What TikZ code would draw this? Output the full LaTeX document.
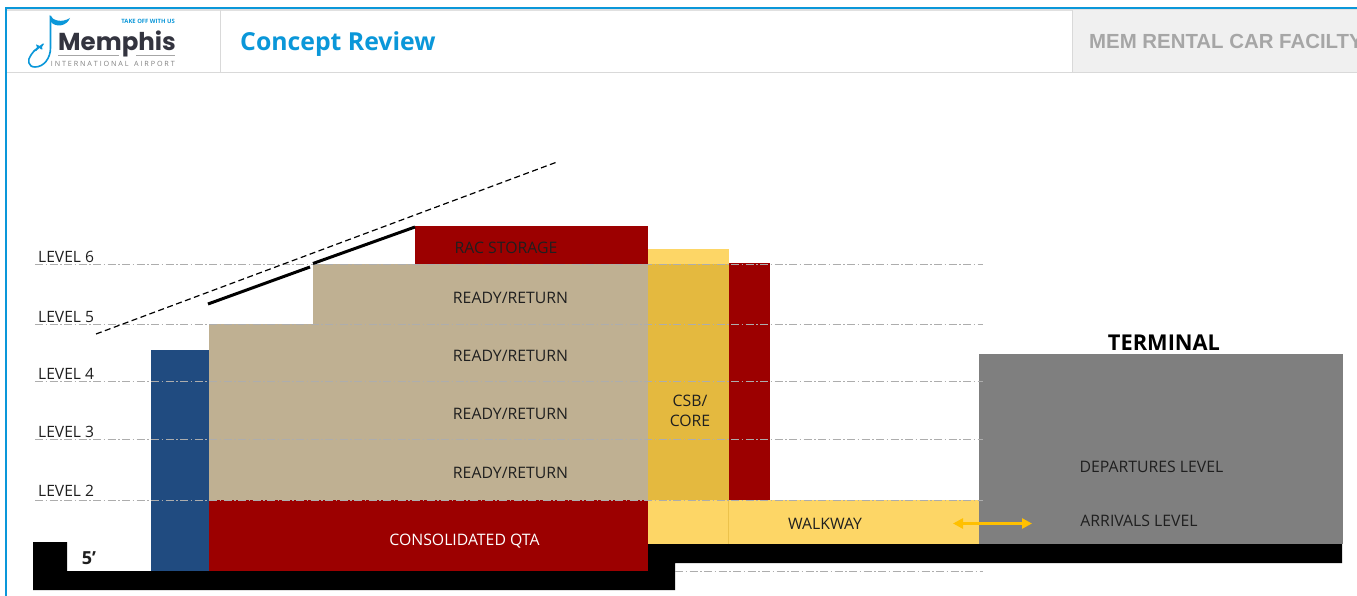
\documentclass[tikz,border=0pt]{standalone}
\usepackage{fontspec}
\setmainfont{Open Sans}
\newfontfamily\arialf{Liberation Sans}
\newfontfamily\logof{Poppins}
\usetikzlibrary{arrows.meta}
\definecolor{hblue}{HTML}{0A97D9}
\definecolor{navy}{HTML}{204B80}
\definecolor{tan}{HTML}{BFB092}
\definecolor{rac}{HTML}{9C0000}
\definecolor{core}{HTML}{E4B93F}
\definecolor{walk}{HTML}{FDD666}
\definecolor{term}{HTML}{7F7F7F}
\definecolor{ink}{HTML}{1F1F1F}
\definecolor{rule}{HTML}{D9D9D9}
\definecolor{logoink}{HTML}{33343F}
\definecolor{amberarrow}{HTML}{FFC000}
\tikzset{
  lbl/.style={font=\fontsize{15.8}{18}\selectfont,text=ink,inner sep=0pt},
  lvl/.style={font=\fontsize{15.6}{18}\selectfont,text=ink,inner sep=0pt,anchor=base west},
  lvline/.style={draw=black!32,line width=0.8pt,dash pattern=on 8pt off 2.5pt on 1.5pt off 2.5pt},
}
\begin{document}
\begin{tikzpicture}[x=1pt,y=-1pt]
\useasboundingbox (0,0) rectangle (1357,596);
\fill[white] (0,0) rectangle (1357,596);
% header
\fill[black!12] (7,9.5) rectangle (1357,11);
\fill[hblue] (5.5,7.5) rectangle (1357,9.5);
\fill[hblue] (5,7.5) rectangle (7,596);
\fill[black!6] (1072,10.5) rectangle (1357,72);
\draw[rule,line width=0.8pt] (7,72) -- (1357,72);
\draw[rule,line width=0.8pt] (220.5,10.5) -- (220.5,72);
\draw[rule,line width=0.8pt] (1072.5,10.5) -- (1072.5,72);
\node[inner sep=0pt,anchor=base west,text=hblue,font=\fontsize{24.8}{30}\bfseries\selectfont] (title) at (240,51) {Concept Review};
\node[inner sep=0pt,anchor=base west,text=black!35,font=\arialf\fontsize{20.4}{26}\bfseries\selectfont] (facility) at (1089,49) {MEM RENTAL CAR FACILTY};
% logo
\draw[hblue,line width=1.6pt] (50.5,16) -- (50.5,48) .. controls (50.5,58) and (44,67) .. (35,67) .. controls (28,67) and (27,60) .. (31,55) .. controls (33,52) and (35,50) .. (37,49);
\fill[hblue] (49.7,15) .. controls (53,21) and (62,23) .. (70,18) .. controls (67,26) and (56,28) .. (51,22) -- cycle;
\fill[hblue] (33,51) -- (37,47.5) -- (36,44.5) -- (37.5,45) -- (39.5,46) -- (43,43.5) -- (44,44) -- (42,47) -- (42.5,49.5) -- (41,49.5) -- (39.5,48) -- (36,51) -- cycle;
\node[inner sep=0pt,anchor=base east,text=hblue,font=\fontsize{5.9}{7}\bfseries\selectfont] (tag) at (175,23.5) {TAKE OFF WITH US};
\node[inner sep=0pt,anchor=base east,text=logoink,font=\logof\fontsize{24.5}{30}\bfseries\selectfont] (memphis) at (176,51) {Memphis};
\fill[black!35] (58,55.5) rectangle (119,56.5);
\fill[black!35] (136,55.5) rectangle (175,56.5);
\node[inner sep=0pt,anchor=base east,text=black!50,font=\fontsize{7.2}{8}\selectfont] (intl) at (175,66.5) {I N T E R N A T I O N A L\ \ \ A I R P O R T};
% black base
\fill[black] (33,542) -- (67,542) -- (67,571) -- (648,571) -- (648,544) -- (1342,544) -- (1342,563) -- (675,563) -- (675,590) -- (33,590) -- cycle;
% blocks
\fill[navy] (151,350) rectangle (209,571);
\fill[tan] (209,324) rectangle (648,500);
\fill[tan] (313,264) rectangle (648,324);
\fill[rac] (209,500) rectangle (648,571);
\fill[rac] (415,226) rectangle (648,264);
\fill[rac] (729,263) rectangle (770,500);
\fill[walk] (648,249) rectangle (729,264);
\fill[core] (648,264) rectangle (729,500);
\fill[walk] (648,500) rectangle (979,543.5);
\draw[core!70!walk,line width=0.7pt] (728,500) -- (728,543.5);
\fill[term] (979,354) rectangle (1343,543.5);
% level lines
\foreach \yy/\nm in {264/6,324/5,381/4,439/3,500/2}{
  \coordinate (ls\nm) at (35,\yy);
  \coordinate (le\nm) at (983,\yy);
  \draw[lvline] (ls\nm) -- (le\nm);
}
\coordinate (ls1) at (675,571);
\coordinate (le1) at (983,571);
\draw[lvline] (ls1) -- (le1);
\node[lvl] (l6) at (38,262.7) {LEVEL 6};
\node[lvl] (l5) at (38,322.2) {LEVEL 5};
\node[lvl] (l4) at (38,379.7) {LEVEL 4};
\node[lvl] (l3) at (38,437.2) {LEVEL 3};
\node[lvl] (l2) at (38,496.7) {LEVEL 2};
% roof
\coordinate (ra) at (96,334);
\coordinate (rb) at (557,162);
\draw[black,line width=1.2pt,dash pattern=on 6pt off 3.5pt] (ra) -- (rb);
\coordinate (t1) at (208,304);
\coordinate (t2) at (310,267);
\coordinate (t3) at (313,263.5);
\coordinate (t4) at (415,227);
\draw[black,line width=3pt] (t1) -- (t2);
\draw[black,line width=3pt] (t3) -- (t4);
% labels
\node[lbl] (rs) at (506,248) {RAC STORAGE};
\node[lbl] (r1) at (510.5,298) {READY/RETURN};
\node[lbl] (r2) at (510.5,355.5) {READY/RETURN};
\node[lbl] (r3) at (510.5,413.5) {READY/RETURN};
\node[lbl] (r4) at (510.5,472.5) {READY/RETURN};
\node[lbl,text=white] (qta) at (464.5,541) {CONSOLIDATED QTA};
\node[lbl,align=center,font=\fontsize{15.8}{20}\selectfont] (csb) at (690,411) {CSB/\\CORE};
\node[lbl] (wk) at (825,523.5) {WALKWAY};
\node[lbl] (dep) at (1151.5,467) {DEPARTURES LEVEL};
\node[lbl] (arr) at (1139,521) {ARRIVALS LEVEL};
\node[inner sep=0pt,font=\fontsize{21.8}{24}\bfseries\selectfont,text=black] (termt) at (1164,342.5) {TERMINAL};
\node[inner sep=0pt,font=\fontsize{18}{20}\bfseries\selectfont,text=ink] (five) at (89,558) {5’};
% arrow
\coordinate (aa) at (953,523.5);
\coordinate (ab) at (1032,523.5);
\draw[{Triangle[length=10pt,width=10pt]}-{Triangle[length=10pt,width=10pt]},color=amberarrow,line width=2.8pt] (aa) -- (ab);
\end{tikzpicture}
\end{document}
